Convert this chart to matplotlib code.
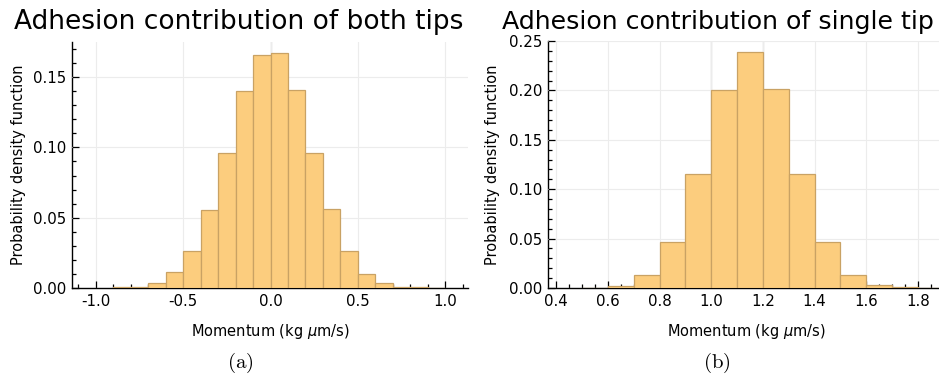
import numpy as np
import matplotlib
matplotlib.use("Agg")
import matplotlib.pyplot as plt
from matplotlib.ticker import MultipleLocator, FormatStrFormatter

# histogram data (bin edges every 0.1)
both_edges = np.round(np.arange(-0.9, 1.0001, 0.1), 2)
both_pdf = [0.0005, 0.001, 0.0038, 0.0116, 0.0266, 0.0553, 0.0957, 0.140, 0.1655,
            0.167, 0.1408, 0.0957, 0.0560, 0.0266, 0.0102, 0.0038, 0.001, 0.0005, 0.0002]
single_edges = np.round(np.arange(0.5, 1.9001, 0.1), 2)
single_pdf = [0.0005, 0.0024, 0.0129, 0.047, 0.1155, 0.2006, 0.2385, 0.2016,
              0.1155, 0.0464, 0.0129, 0.003, 0.001, 0.0003]

titles = ["Adhesion contribution of both tips", "Adhesion contribution of single tip"]
tags = ["(a)", "(b)"]
dark_lines = [[0.0], [1.0, 1.2]]

W, H = 939, 382
fig = plt.figure(figsize=(W / 100, H / 100), dpi=100)
plt.rcParams["font.family"] = "DejaVu Sans"

FILL = "#fccd7e"
EDGE = "#c9a264"
GRID = "#ececec"

def px_axes(x0, x1, ytop, ybot):
    return fig.add_axes([x0 / W, 1 - ybot / H, (x1 - x0) / W, (ybot - ytop) / H])

panels = [
    dict(ax=px_axes(72, 468, 42, 288), edges=both_edges, pdf=both_pdf,
         xlim=(-1.136, 1.13), ylim=(0, 0.175), xmaj=0.5, xmin=0.1, ymaj=0.05,
         title_x=14, title_fs=19, tag_x=240, ylab_x=19),
    dict(ax=px_axes(548, 945, 41, 288), edges=single_edges, pdf=single_pdf,
         xlim=(0.368, 1.905), ylim=(0, 0.25), xmaj=0.2, xmin=0.05, ymaj=0.05,
         title_x=502, title_fs=18.2, tag_x=717, ylab_x=493),
]

for i, p in enumerate(panels):
    ax = p["ax"]
    e = np.asarray(p["edges"])
    ax.bar(e[:-1], p["pdf"], width=np.diff(e), align="edge", color=FILL,
           edgecolor=EDGE, linewidth=0.9, zorder=3)
    ax.set_xlim(*p["xlim"])
    ax.set_ylim(*p["ylim"])
    ax.xaxis.set_major_locator(MultipleLocator(p["xmaj"]))
    ax.xaxis.set_minor_locator(MultipleLocator(p["xmin"]))
    ax.yaxis.set_major_locator(MultipleLocator(p["ymaj"]))
    ax.yaxis.set_minor_locator(MultipleLocator(0.01))
    ax.xaxis.set_major_formatter(FormatStrFormatter("%.1f"))
    ax.yaxis.set_major_formatter(FormatStrFormatter("%.2f"))
    ax.grid(True, which="major", color=GRID, lw=0.8, zorder=0)
    for xv in dark_lines[i]:
        ax.axvline(xv, color="#bdbdbd", lw=0.9, zorder=1)
    for s in ("top", "right"):
        ax.spines[s].set_visible(False)
    for s in ("left", "bottom"):
        ax.spines[s].set_linewidth(1.0)
    ax.tick_params(which="both", direction="in", labelsize=10.8, width=0.9, pad=4)
    ax.tick_params(which="major", length=5)
    ax.tick_params(which="minor", length=3)
    ax.set_axisbelow(False)
    ax.set_xlabel("Momentum (kg $\\mu$m/s)", fontsize=10.5, labelpad=10)
    fig.text(p["ylab_x"] / W, 1 - 165 / H, "Probability density function",
             rotation=90, ha="center", va="center", fontsize=10.5)
    fig.text(p["title_x"] / W, 1 - 29 / H, titles[i], ha="left", va="baseline",
             fontsize=p["title_fs"])
    fig.text(p["tag_x"] / W, 1 - 363 / H, "$\\mathrm{" + tags[i] + "}$",
             ha="center", va="center", fontsize=15, math_fontfamily="cm")

fig.savefig("out.png", dpi=100)
